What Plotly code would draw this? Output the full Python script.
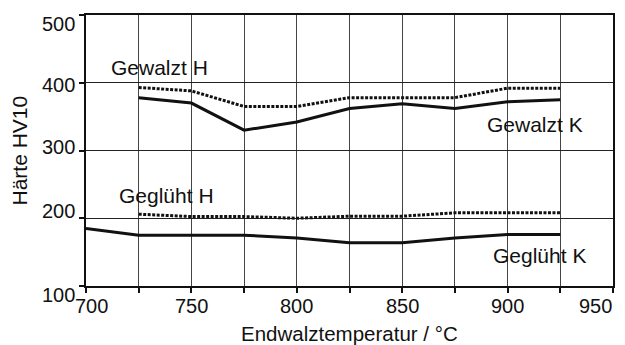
import plotly.graph_objects as go

temps = [700, 725, 750, 775, 800, 825, 850, 875, 900, 925]
gewalzt_h = [None, 393, 388, 365, 365, 378, 378, 378, 392, 392]
gewalzt_k = [None, 378, 370, 330, 342, 362, 369, 362, 372, 375]
geglueht_h = [None, 206, 202.5, 202.5, 200, 203, 203, 208, 208, 208]
geglueht_k = [185, 175, 175, 175, 171, 164, 164, 171, 176, 176]

x_ticks = [700, 725, 750, 775, 800, 825, 850, 875, 900, 925, 950]
x_labels = [700, 750, 800, 850, 900, 950]
y_ticks = [100, 200, 300, 400, 500]

font = "Liberation Sans, Arial, sans-serif"
ink = "#111"

fig = go.Figure()
dotted = dict(color=ink, width=3, dash="3px,1.5px")
solid = dict(color=ink, width=3)
fig.add_trace(go.Scatter(x=temps, y=gewalzt_h, mode="lines", line=dotted))
fig.add_trace(go.Scatter(x=temps, y=gewalzt_k, mode="lines", line=solid))
fig.add_trace(go.Scatter(x=temps, y=geglueht_h, mode="lines", line=dotted))
fig.add_trace(go.Scatter(x=temps, y=geglueht_k, mode="lines", line=solid))

# series labels
labels = [("Gewalzt H", 735, 422), ("Gewalzt K", 913, 338),
          ("Geglüht H", 738, 233), ("Geglüht K", 915, 145)]
for t, x, y in labels:
    fig.add_annotation(x=x, y=y, text=t, showarrow=False,
                       font=dict(family=font, size=21, color=ink))

# y tick labels (slightly irregular placement as in the original)
y_shift = {100: -9, 200: 7, 300: 4, 400: -2, 500: -9}
for v in y_ticks:
    fig.add_annotation(xref="paper", x=0, y=v, yref="y", text=str(v),
                       showarrow=False, xanchor="right", yanchor="middle",
                       xshift=-9, yshift=y_shift[v],
                       font=dict(family=font, size=20, color=ink))

# x tick labels
for v in x_labels:
    anchor = "center"
    xs = 0
    if v == 700:
        xs = 5
    if v == 950:
        anchor = "right"
        xs = 1
    fig.add_annotation(x=v, xref="x", yref="paper", y=0, text=str(v),
                       showarrow=False, xanchor=anchor, yanchor="top",
                       xshift=xs, yshift=-7,
                       font=dict(family=font, size=20, color=ink))

# axis titles
fig.add_annotation(xref="paper", yref="paper", x=0.5, y=0, yshift=-47,
                   text="Endwalztemperatur / °C", showarrow=False,
                   xanchor="center", yanchor="middle",
                   font=dict(family=font, size=20.5, color=ink))
fig.add_annotation(xref="paper", yref="paper", x=0, y=0.5, xshift=-67,
                   text="Härte HV10", showarrow=False, textangle=-90,
                   xanchor="center", yanchor="middle",
                   font=dict(family=font, size=21, color=ink))

fig.update_layout(
    width=625, height=345,
    margin=dict(l=86, r=10, t=15, b=59),
    plot_bgcolor="white", paper_bgcolor="white",
    showlegend=False,
    font=dict(family=font, size=20, color=ink),
)
fig.update_xaxes(range=[700, 950], tickvals=x_ticks, showticklabels=False,
                 showgrid=True, gridcolor="#444", gridwidth=1,
                 showline=True, linecolor=ink, linewidth=2, mirror=True,
                 ticks="outside", ticklen=5, tickcolor=ink, tickwidth=1.5,
                 zeroline=False)
fig.update_yaxes(range=[100, 500], tickvals=y_ticks, showticklabels=False,
                 showgrid=True, gridcolor="#222", gridwidth=1,
                 showline=True, linecolor=ink, linewidth=2, mirror=True,
                 ticks="outside", ticklen=5, tickcolor=ink, tickwidth=1.5,
                 zeroline=False)

fig.write_html("out.html")
